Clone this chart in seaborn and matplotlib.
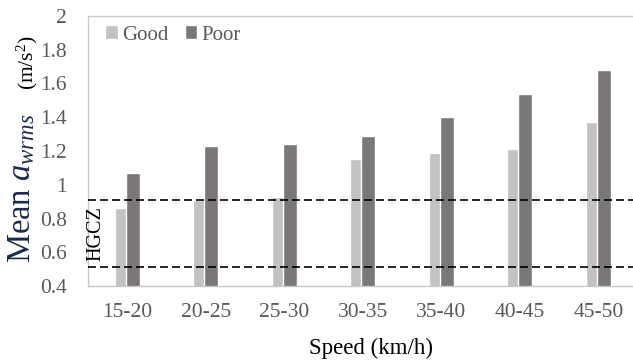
import matplotlib
matplotlib.use("Agg")
import matplotlib.pyplot as plt
import seaborn as sns
import pandas as pd

speeds = ["15-20", "20-25", "25-30", "30-35", "35-40", "40-45", "45-50"]
good = [0.86, 0.91, 0.93, 1.15, 1.19, 1.21, 1.37]
poor = [1.07, 1.23, 1.24, 1.29, 1.40, 1.54, 1.68]
series = ["Good", "Poor"]
hgcz_low, hgcz_high = 0.51, 0.91
yticks = [0.4, 0.6, 0.8, 1.0, 1.2, 1.4, 1.6, 1.8, 2.0]

df = pd.DataFrame({
    "Speed": speeds * 2,
    "Value": good + poor,
    "Condition": ["Good"] * len(speeds) + ["Poor"] * len(speeds),
})

sns.set_theme(style="white")
plt.rcParams["font.family"] = ["Liberation Serif", "DejaVu Serif"]
plt.rcParams["mathtext.fontset"] = "custom"
plt.rcParams["mathtext.rm"] = "Liberation Serif"
plt.rcParams["mathtext.it"] = "Liberation Serif:italic"
plt.rcParams["mathtext.bf"] = "Liberation Serif:bold"

fig = plt.figure(figsize=(6.33, 3.61), dpi=100)
ax = fig.add_axes([88 / 633, 75 / 361, 549.5 / 633, 270 / 361])

good_c, poor_c = "#C2C2C2", "#7B7777"
sns.barplot(data=df, x="Speed", y="Value", hue="Condition", hue_order=series,
            palette=[good_c, poor_c], saturation=1, width=0.32, ax=ax,
            legend=True, errorbar=None)

# Excel-like overlap: poor bars slightly overlap the good bars
for p in ax.containers[0]:
    p.set_width(0.179)
for p in ax.containers[1]:
    p.set_x(p.get_x() - 0.019)
    p.set_width(0.179)

ax.set_xlim(-0.5, 6.5)
ax.set_ylim(0.4, 2.0)
ax.set_yticks(yticks)
ax.set_yticklabels([f"{v:g}" for v in yticks])

dash = (0, (4.8, 2.4))
ax.axhline(hgcz_high, color="black", lw=1.2, ls=dash, zorder=3)
ax.axhline(hgcz_low, color="black", lw=1.2, ls=dash, zorder=3)
ax.text(0.015, (hgcz_low + hgcz_high) / 2, "HGCZ", rotation=90,
        transform=ax.get_yaxis_transform(), ha="center", va="center",
        fontsize=14.5, color="black")

ax.tick_params(axis="both", length=0, labelsize=15.5, colors="#595959")
ax.tick_params(axis="y", pad=15)
ax.tick_params(axis="x", pad=12)

for s in ax.spines.values():
    s.set_color("#C8C8C8")
    s.set_linewidth(1.0)

ax.set_xlabel("Speed (km/h)", fontsize=16.5, color="black")
ax.xaxis.set_label_coords((371 - 88) / 549.5, (286 - 348) / 270)
ax.xaxis.label.set_va("center")
ax.set_ylabel("")

fig.text(22 / 633, 1 - 263 / 361, r"Mean $a_{wrms}$", rotation=90,
         ha="center", va="bottom", fontsize=23.5, color="#1B2A48")
fig.text(27 / 633, 1 - 35 / 361, r"(m/s$^{2}$)", rotation=90,
         ha="center", va="top", fontsize=15.5, color="black")

leg = ax.legend(loc="center left", bbox_to_anchor=((105 - 88) / 549.5, (286 - 35) / 270),
                ncol=2, frameon=False, fontsize=15, borderpad=0, borderaxespad=0,
                handlelength=0.62, handleheight=0.62, handletextpad=0.2,
                columnspacing=0.77)
for t in leg.get_texts():
    t.set_color("#595959")

fig.savefig("out.png", dpi=100)
